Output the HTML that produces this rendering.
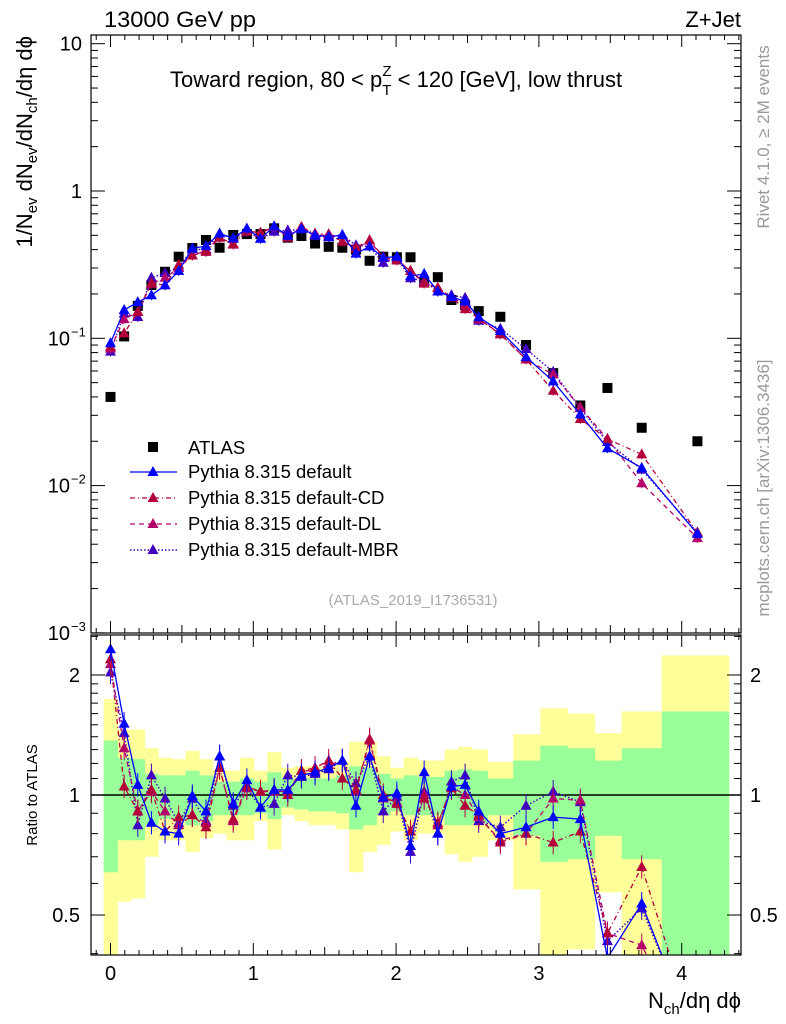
<!DOCTYPE html>
<html><head><meta charset="utf-8"><style>
html,body{margin:0;padding:0;background:#fff;}
svg{display:block;font-family:"Liberation Sans",sans-serif;}
</style></head><body>
<svg id="chart" width="786" height="1024" viewBox="0 0 786 1024" xmlns="http://www.w3.org/2000/svg">
<text x="104" y="27" font-size="22" textLength="152" lengthAdjust="spacingAndGlyphs">13000 GeV pp</text>
<text x="741" y="27" font-size="22" text-anchor="end">Z+Jet</text>
<text x="170" y="87" font-size="22">Toward region, 80 &lt; p<tspan font-size="15" dy="8">T</tspan><tspan font-size="15" dx="-9" dy="-19">Z</tspan><tspan dy="11"> &lt; 120 [GeV], low thrust</tspan></text>
<text transform="translate(32,36) rotate(-90)" font-size="22" text-anchor="end">1/N<tspan font-size="15" dy="5">ev</tspan><tspan dy="-5"> dN</tspan><tspan font-size="15" dy="5">ev</tspan><tspan dy="-5">/dN</tspan><tspan font-size="15" dy="5">ch</tspan><tspan dy="-5">/dη dϕ</tspan></text>
<text transform="translate(37,795) rotate(-90)" font-size="15" text-anchor="middle">Ratio to ATLAS</text>
<text x="741" y="1008" font-size="22" text-anchor="end">N<tspan font-size="15" dy="6">ch</tspan><tspan dy="-6">/dη dϕ</tspan></text>
<text transform="translate(769,137) rotate(-90)" font-size="17" fill="#999" text-anchor="middle">Rivet 4.1.0, ≥ 2M events</text>
<text transform="translate(769,488) rotate(-90)" font-size="17" fill="#999" text-anchor="middle">mcplots.cern.ch [arXiv:1306.3436]</text>
<text x="413" y="605" font-size="15" fill="#aaa" text-anchor="middle">(ATLAS_2019_I1736531)</text>
<g id="g"></g>
</svg>
<script>
const xVals=[0,0.0955,0.191,0.2865,0.382,0.4775,0.573,0.6685,0.764,0.8595,0.955,1.0505,1.146,1.2415,1.337,1.4325,1.528,1.6235,1.719,1.8145,1.91,2.0055,2.101,2.1965,2.292,2.3875,2.483,2.5785,2.73,2.91,3.10,3.29,3.48,3.72,4.11];
const binLo=[-0.048,0.048,0.143,0.239,0.334,0.43,0.525,0.621,0.716,0.812,0.907,1.003,1.098,1.194,1.289,1.385,1.48,1.576,1.671,1.767,1.862,1.958,2.053,2.149,2.244,2.34,2.435,2.531,2.64,2.82,3.01,3.20,3.39,3.58,3.86];
const binHi=[0.048,0.143,0.239,0.334,0.43,0.525,0.621,0.716,0.812,0.907,1.003,1.098,1.194,1.289,1.385,1.48,1.576,1.671,1.767,1.862,1.958,2.053,2.149,2.244,2.34,2.435,2.531,2.64,2.82,3.01,3.20,3.39,3.58,3.86,4.33];
const atlas=[0.040,0.103,0.166,0.23,0.283,0.358,0.41,0.465,0.412,0.503,0.51,0.51,0.558,0.482,0.495,0.44,0.418,0.412,0.40,0.336,0.358,0.355,0.355,0.24,0.26,0.182,0.168,0.153,0.140,0.090,0.058,0.035,0.046,0.0247,0.020];
const yelHi=[1.74,1.46,1.46,1.31,1.24,1.23,1.29,1.23,1.15,1.15,1.24,1.15,1.28,1.17,1.18,1.18,1.18,1.21,1.36,1.36,1.25,1.17,1.24,1.22,1.22,1.30,1.32,1.30,1.21,1.42,1.65,1.60,1.43,1.62,2.24];
const yelLo=[0.3,0.54,0.55,0.70,0.77,0.77,0.72,0.78,0.80,0.77,0.77,0.86,0.73,0.89,0.86,0.84,0.84,0.82,0.64,0.72,0.75,0.81,0.77,0.80,0.80,0.71,0.68,0.70,0.77,0.58,0.3,0.41,0.57,0.3,0.3];
const grnHi=[1.37,1.24,1.23,1.13,1.12,1.12,1.15,1.12,1.08,1.08,1.10,1.08,1.14,1.10,1.10,1.10,1.10,1.12,1.18,1.17,1.13,1.10,1.12,1.11,1.11,1.15,1.16,1.15,1.10,1.22,1.33,1.31,1.22,1.31,1.62];
const grnLo=[0.64,0.77,0.77,0.84,0.87,0.87,0.84,0.86,0.89,0.89,0.89,0.90,0.87,0.93,0.92,0.91,0.91,0.90,0.82,0.84,0.89,0.91,0.89,0.89,0.89,0.84,0.84,0.85,0.89,0.79,0.68,0.69,0.79,0.69,0.3];
const ratioDefault=[2.32,1.51,1.06,0.852,0.81,0.80,0.994,0.91,1.25,0.95,1.09,0.93,1.03,1.03,1.12,1.14,1.17,1.22,0.94,1.25,0.985,1.01,0.745,1.14,0.80,1.05,1.06,0.91,0.80,0.83,0.88,0.87,0.39,0.534,0.235];
const ratioCD=[2.19,1.05,0.91,1.03,0.81,0.88,0.89,0.83,1.17,0.87,1.05,1.02,1.03,1.0,1.15,1.17,1.22,1.10,1.03,1.38,1.0,0.95,0.81,0.98,0.85,1.04,0.94,0.89,0.76,0.80,0.76,0.81,0.45,0.66,0.24];
const ratioDL=[2.13,1.31,0.91,1.02,0.91,0.84,0.89,0.85,1.17,0.86,1.04,1.02,1.02,1.02,1.15,1.15,1.19,1.22,1.02,1.37,0.98,0.96,0.81,1.0,0.84,1.05,1.0,0.88,0.77,0.80,0.98,0.97,0.45,0.42,0.22];
const ratioMBR=[2.03,1.43,0.84,1.12,0.98,0.85,0.98,0.86,1.25,0.94,1.04,0.93,0.95,1.12,1.11,1.13,1.16,1.22,1.07,1.25,0.91,0.99,0.72,1.02,0.80,1.08,1.12,0.86,0.83,0.94,1.02,0.96,0.43,0.52,0.24];
const xTicks=[0,1,2,3,4];
const seriesNames=["Pythia 8.315 default","Pythia 8.315 default-CD","Pythia 8.315 default-DL","Pythia 8.315 default-MBR"];

const NS="http://www.w3.org/2000/svg";
const g=document.getElementById('g');
const L=91,R=741,T=35,MB=633,RT=635,RB=955;
const X=v=>110.5+v*142.8;
const Y=v=>191-Math.log10(v)*147.3;
const YR=v=>795-Math.log10(v)*398.7;
function el(tag,attrs,parent){const e=document.createElementNS(NS,tag);for(const k in attrs)e.setAttribute(k,attrs[k]);(parent||g).appendChild(e);return e;}

const defs=el('defs',{});
const c1=el('clipPath',{id:'cm'},defs);el('rect',{x:L,y:T,width:R-L,height:MB-T},c1);
const c2=el('clipPath',{id:'cr'},defs);el('rect',{x:L,y:RT,width:R-L,height:RB-RT},c2);
const gm=el('g',{'clip-path':'url(#cm)'});


const gr=el('g',{'clip-path':'url(#cr)'});



for(let i=0;i<xVals.length;i++){
  const y1=el('rect',{x:X(binLo[i]),y:YR(yelHi[i]),width:X(binHi[i])-X(binLo[i])+0.5,height:YR(yelLo[i])-YR(yelHi[i]),fill:'#ffff99'},gr);
  
  
}
for(let i=0;i<xVals.length;i++){
  const g1=el('rect',{x:X(binLo[i]),y:YR(grnHi[i]),width:X(binHi[i])-X(binLo[i])+0.5,height:YR(grnLo[i])-YR(grnHi[i]),fill:'#99ff99'},gr);
  
  
}
el('line',{x1:L,x2:R,y1:YR(1),y2:YR(1),stroke:'#000','stroke-width':1.5},gr);

atlas.forEach((v,i)=>{
  const s=el('rect',{x:X(xVals[i])-5,y:Y(v)-5,width:10,height:10,fill:'#000'},gm);
  
  
});

const series=[
 {r:ratioDefault,c:'#0000ff',d:'',w:1.3},
 {r:ratioCD,c:'#b3003b',d:'5,3,1,3',w:1.3},
 {r:ratioDL,c:'#b3006b',d:'5,4',w:1.3},
 {r:ratioMBR,c:'#4000c0',d:'1.5,2',w:1.5}
];
function tri(x,y,c,parent){return el('path',{d:`M${x},${y-6}L${x+5.5},${y+4}L${x-5.5},${y+4}Z`,fill:c},parent);}
series.slice().reverse().forEach((s,k)=>{
  const mainVals=s.r.map((r,i)=>r*atlas[i]);
  const pm=el('polyline',{points:mainVals.map((v,i)=>X(xVals[i])+','+Y(v)).join(' '),fill:'none',stroke:s.c,'stroke-width':s.w,'stroke-dasharray':s.d},gm);
  
  
  const pr=el('polyline',{points:s.r.map((v,i)=>X(xVals[i])+','+YR(v)).join(' '),fill:'none',stroke:s.c,'stroke-width':s.w,'stroke-dasharray':s.d},gr);
  
  
  mainVals.forEach((v,i)=>{
    const x=X(xVals[i]);
    el('line',{x1:x,x2:x,y1:Y(v*1.08),y2:Y(v/1.08),stroke:s.c,'stroke-width':1},gm);
    const t=tri(x,Y(v),s.c,gm);
    
    
  });
  s.r.forEach((v,i)=>{
    const x=X(xVals[i]);
    el('line',{x1:x,x2:x,y1:YR(v*1.07),y2:YR(v/1.07),stroke:s.c,'stroke-width':1},gr);
    const t=tri(x,YR(v),s.c,gr);
    
    
  });
});

el('rect',{x:L,y:T,width:R-L,height:MB-T,fill:'none',stroke:'#000','stroke-width':1.2});
el('rect',{x:L,y:RT,width:R-L,height:RB-RT,fill:'none',stroke:'#000','stroke-width':1.2});

for(let k=-1;k<=44;k++){
  const v=k/10;const x=X(v);if(x<L||x>R)continue;
  const maj=k%10===0, half=k%5===0;
  const len=maj?12:(half?8:5);
  [[T,1],[MB,-1],[RT,1],[RB,-1]].forEach(([y,dir])=>el('line',{x1:x,x2:x,y1:y,y2:y+dir*len,stroke:'#000','stroke-width':1}));
}
xTicks.forEach(v=>{
  const t=el('text',{x:X(v),y:980,'font-size':20,'text-anchor':'middle'});t.textContent=v;
  
  
});
for(let e=-3;e<=1;e++){for(let m=1;m<10;m++){
  const v=m*Math.pow(10,e);const y=Y(v);if(y<T-0.5||y>MB+0.5)continue;
  const len=m===1?14:7;
  el('line',{x1:L,x2:L+len,y1:y,y2:y,stroke:'#000'});
  el('line',{x1:R,x2:R-len,y1:y,y2:y,stroke:'#000'});
}}
const yLabs=[[10,'10',''],[1,'1',''],[0.1,'10','−1'],[0.01,'10','−2'],[0.001,'10','−3']];
yLabs.forEach(([v,b,e])=>{
  const t=el('text',{x:e?70:82,y:Y(v)+7,'font-size':20,'text-anchor':'end'});
  t.textContent=b;
  
  
  if(e){const s=el('text',{x:71,y:Y(v)-2,'font-size':13});s.textContent=e;}
});
const rt=[0.4,0.5,0.6,0.7,0.8,0.9,1,1.1,1.2,1.3,1.4,1.5,1.6,1.7,1.8,1.9,2,2.5];
rt.forEach(v=>{const y=YR(v);if(y<RT||y>RB)return;const len=(v===0.5||v===1||v===2)?14:7;
  el('line',{x1:L,x2:L+len,y1:y,y2:y,stroke:'#000'});el('line',{x1:R,x2:R-len,y1:y,y2:y,stroke:'#000'});});
[[2,'2'],[1,'1'],[0.5,'0.5']].forEach(([v,s])=>{
  const a=el('text',{x:80,y:YR(v)+7,'font-size':20,'text-anchor':'end'});a.textContent=s;
  
  
  const b=el('text',{x:750,y:YR(v)+7,'font-size':20});b.textContent=s;
  
  
});

const lg=el('g',{});


el('rect',{x:148,y:442,width:10,height:10,fill:'#000'},lg);
const ta=el('text',{x:188,y:454,'font-size':18.5},lg);ta.textContent='ATLAS';
series.forEach((s,k)=>{
  const y=472+k*26;
  const it=el('g',{},lg);
  
  
  el('line',{x1:130,x2:177,y1:y,y2:y,stroke:s.c,'stroke-width':s.w,'stroke-dasharray':s.d},it);
  tri(153,y,s.c,it);
  const t=el('text',{x:188,y:y+6,'font-size':18.5},it);t.textContent=seriesNames[k];
});
</script>
</body></html>
